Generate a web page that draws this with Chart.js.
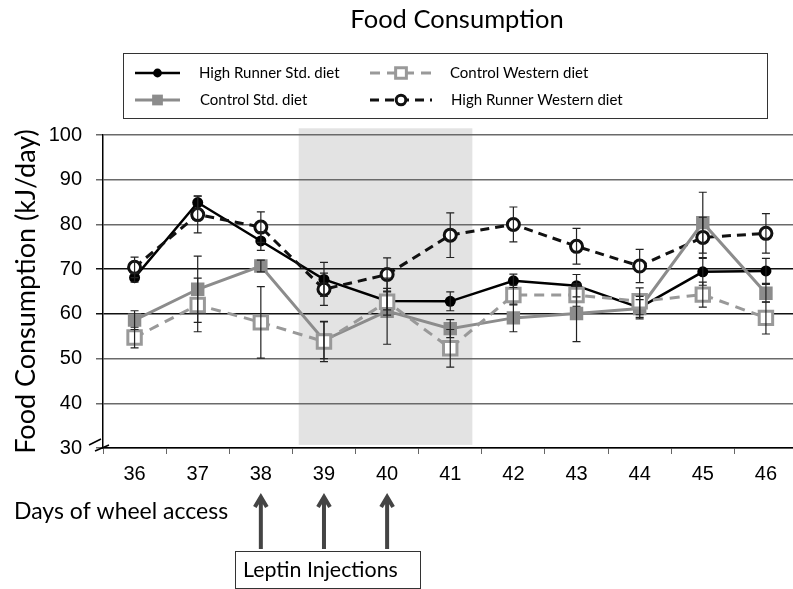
<!DOCTYPE html>
<html>
<head>
<meta charset="utf-8">
<script src="https://cdn.jsdelivr.net/npm/chart.js"></script>
<style>
  html, body { margin: 0; padding: 0; overflow: hidden; background: #fff; }
  #chart { display: block; background: #fff; }
</style>
</head>
<body>
<canvas id="chart" width="810" height="589"></canvas>
<script>
const days = ["36", "37", "38", "39", "40", "41", "42", "43", "44", "45", "46"];
const yTicks = [30, 40, 50, 60, 70, 80, 90, 100];

const hrStd     = [68.1, 84.9, 76.3, 67.7, 62.9, 62.8, 67.4, 66.3, 61.4, 69.4, 69.6];
const ctrlStd   = [58.6, 65.5, 70.7, 54.1, 60.6, 56.7, 59.1, 60.1, 61.2, 80.4, 64.6];
const ctrlWest  = [54.7, 62.0, 58.1, 53.8, 62.7, 52.3, 64.2, 64.2, 62.8, 64.3, 59.1];
const hrWest    = [70.4, 82.2, 79.4, 65.5, 68.8, 77.6, 80.0, 75.1, 70.7, 77.1, 78.0];

const hrStdErr    = [1.0, 1.5, 2.1, 3.8, 2.0, 2.1, 1.5, 2.5, 2.5, 3.0, 2.8];
const ctrlStdErr  = [2.1, 7.4, 1.3, 4.1, 7.4, 2.0, 3.1, 6.3, 2.0, 6.8, 2.0];
const ctrlWestErr = [2.3, 6.0, 8.0, 4.5, 3.0, 4.2, 2.2, 2.5, 3.0, 2.8, 3.6];
const hrWestErr   = [2.3, 4.1, 3.4, 3.6, 3.7, 5.0, 3.9, 4.0, 3.7, 4.5, 4.4];

const leptinDays = ["38", "39", "40"];
const shadeFrom = 2.6, shadeTo = 5.35;   // in category index units

const GRAY = "#8c8c8c";
const LIGHTGRAY = "#999999";
const TEXTFONT = "Lato, 'Open Sans', sans-serif";

const datasets = [
  { label: "Control Western diet", data: ctrlWest, err: ctrlWestErr,
    borderColor: LIGHTGRAY, borderWidth: 3, borderDash: [10, 7],
    pointStyle: "rect", pointRadius: 9.5, pointBorderWidth: 3,
    pointBorderColor: LIGHTGRAY, pointBackgroundColor: "#fff" },
  { label: "Control Std. diet", data: ctrlStd, err: ctrlStdErr,
    borderColor: GRAY, borderWidth: 3,
    pointStyle: "rect", pointRadius: 9.5, pointBorderWidth: 0,
    pointBorderColor: GRAY, pointBackgroundColor: GRAY },
  { label: "High Runner Western diet", data: hrWest, err: hrWestErr,
    borderColor: "#111", borderWidth: 3, borderDash: [9, 6],
    pointStyle: "circle", pointRadius: 6, pointBorderWidth: 3,
    pointBorderColor: "#111", pointBackgroundColor: "#fff" },
  { label: "High Runner Std. diet", data: hrStd, err: hrStdErr,
    borderColor: "#000", borderWidth: 2.5,
    pointStyle: "circle", pointRadius: 5.5, pointBorderWidth: 0,
    pointBorderColor: "#000", pointBackgroundColor: "#000" }
];
datasets.forEach(d => { d.fill = false; d.tension = 0; d.pointHoverRadius = d.pointRadius; });

// legend layout: [dataset label, line x0, line x1, text x, y]
const legendItems = [
  ["High Runner Std. diet", 135, 180, 199, 73],
  ["Control Std. diet", 135, 180, 200, 100],
  ["Control Western diet", 370, 432, 450, 73],
  ["High Runner Western diet", 370, 432, 451, 100]
];

function drawMarker(ctx, ds, x, y){
  ctx.save();
  ctx.fillStyle = ds.pointBackgroundColor;
  ctx.strokeStyle = ds.pointBorderColor;
  ctx.lineWidth = ds.pointBorderWidth;
  Chart.helpers.drawPoint(ctx, {
    pointStyle: ds.pointStyle, radius: ds.pointRadius,
    rotation: 0, borderWidth: ds.pointBorderWidth
  }, x, y);
  ctx.restore();
}

const extras = {
  id: "extras",
  beforeDraw(chart){
    const {ctx, scales: {x, y}} = chart;
    ctx.save();
    ctx.fillStyle = "#e3e3e3";
    const x0 = x.getPixelForValue(shadeFrom), x1 = x.getPixelForValue(shadeTo);
    const y0 = y.getPixelForValue(101.5), y1 = y.getPixelForValue(30.7);
    ctx.fillRect(x0, y0, x1 - x0, y1 - y0);
    ctx.restore();
  },
  afterDatasetsDraw(chart){
    const {ctx, scales: {x, y}} = chart;
    ctx.save();
    ctx.strokeStyle = "#222";
    ctx.lineWidth = 1.2;
    chart.data.datasets.forEach(ds => {
      ds.data.forEach((v, i) => {
        const px = x.getPixelForValue(i);
        const top = y.getPixelForValue(v + ds.err[i]);
        const bot = y.getPixelForValue(v - ds.err[i]);
        ctx.beginPath();
        ctx.moveTo(px, top); ctx.lineTo(px, bot);
        ctx.moveTo(px - 4, top); ctx.lineTo(px + 4, top);
        ctx.moveTo(px - 4, bot); ctx.lineTo(px + 4, bot);
        ctx.stroke();
      });
    });
    ctx.restore();
  },
  afterDraw(chart){
    const {ctx, scales: {x, y}} = chart;
    ctx.save();

    // axis break mark
    const by = y.getPixelForValue(30);
    ctx.strokeStyle = "#000";
    ctx.lineWidth = 1.5;
    ctx.beginPath();
    ctx.moveTo(89, by - 3); ctx.lineTo(101, by - 9);
    ctx.moveTo(95, by + 3); ctx.lineTo(109, by - 3);
    ctx.stroke();

    // title
    ctx.fillStyle = "#000";
    ctx.textBaseline = "middle";
    ctx.textAlign = "center";
    ctx.font = "25.5px " + TEXTFONT;
    ctx.fillText("Food Consumption", 457, 20);

    // legend box
    ctx.strokeStyle = "#333";
    ctx.lineWidth = 1;
    ctx.strokeRect(123.5, 53.5, 644, 65);
    ctx.textAlign = "left";
    ctx.font = "15px " + TEXTFONT;
    legendItems.forEach(([label, lx0, lx1, tx, ly]) => {
      const ds = chart.data.datasets.find(d => d.label === label);
      ctx.save();
      ctx.strokeStyle = ds.borderColor;
      ctx.lineWidth = ds.borderWidth;
      ctx.setLineDash(ds.borderDash || []);
      ctx.beginPath();
      ctx.moveTo(lx0, ly); ctx.lineTo(lx1, ly);
      ctx.stroke();
      ctx.restore();
      drawMarker(ctx, Object.assign({}, ds, {pointRadius: ds.pointRadius * 0.8}), (lx0 + lx1) / 2, ly);
      ctx.fillStyle = "#000";
      ctx.fillText(label, tx, ly);
    });

    // bottom annotations
    ctx.font = "23px " + TEXTFONT;
    ctx.fillText("Days of wheel access", 14, 512);

    ctx.strokeStyle = "#444";
    ctx.lineWidth = 4;
    leptinDays.forEach(d => {
      const ax = x.getPixelForValue(days.indexOf(d));
      ctx.beginPath();
      ctx.moveTo(ax, 549); ctx.lineTo(ax, 497);
      ctx.moveTo(ax - 6, 507); ctx.lineTo(ax, 497); ctx.lineTo(ax + 6, 507);
      ctx.stroke();
    });

    ctx.strokeStyle = "#333";
    ctx.lineWidth = 1;
    ctx.strokeRect(235.5, 551.5, 185, 37);
    ctx.fillStyle = "#000";
    ctx.font = "21.4px " + TEXTFONT;
    ctx.fillText("Leptin Injections", 243, 570);

    ctx.restore();
  }
};

new Chart(document.getElementById("chart"), {
  type: "line",
  data: { labels: days, datasets },
  plugins: [extras],
  options: {
    responsive: false,
    animation: false,
    devicePixelRatio: 1,
    layout: { padding: { left: 0, right: 10, top: 135, bottom: 101 } },
    plugins: { legend: { display: false }, title: { display: false }, tooltip: { enabled: false } },
    scales: {
      x: {
        type: "category",
        offset: true,
        grid: { offset: true, drawOnChartArea: false, drawTicks: true, tickLength: 6, color: "#666", lineWidth: 1 },
        border: { color: "#000", width: 1.5 },
        ticks: { color: "#000", padding: 8, font: { family: "'Liberation Sans', Arial", size: 20 } },
        afterFit(scale){ scale.height = 40; }
      },
      y: {
        min: 30, max: 100,
        afterBuildTicks(scale){ scale.ticks = yTicks.map(v => ({ value: v })); },
        grid: {
          tickLength: 7,
          lineWidth: 1.5,
          color: ctx => (ctx.tick && (ctx.tick.value === 60 || ctx.tick.value === 70)) ? "#111" : "#6a6a6a"
        },
        border: { color: "#000", width: 1.5 },
        ticks: { color: "#000", padding: 14, font: { family: "'Liberation Sans', Arial", size: 20 } },
        title: { display: true, text: "Food Consumption (kJ/day)", color: "#000",
                 padding: { top: 10, bottom: 0 }, font: { family: TEXTFONT, size: 27 } },
        afterFit(scale){ scale.width = 103; }
      }
    }
  }
});
</script>
</body>
</html>
